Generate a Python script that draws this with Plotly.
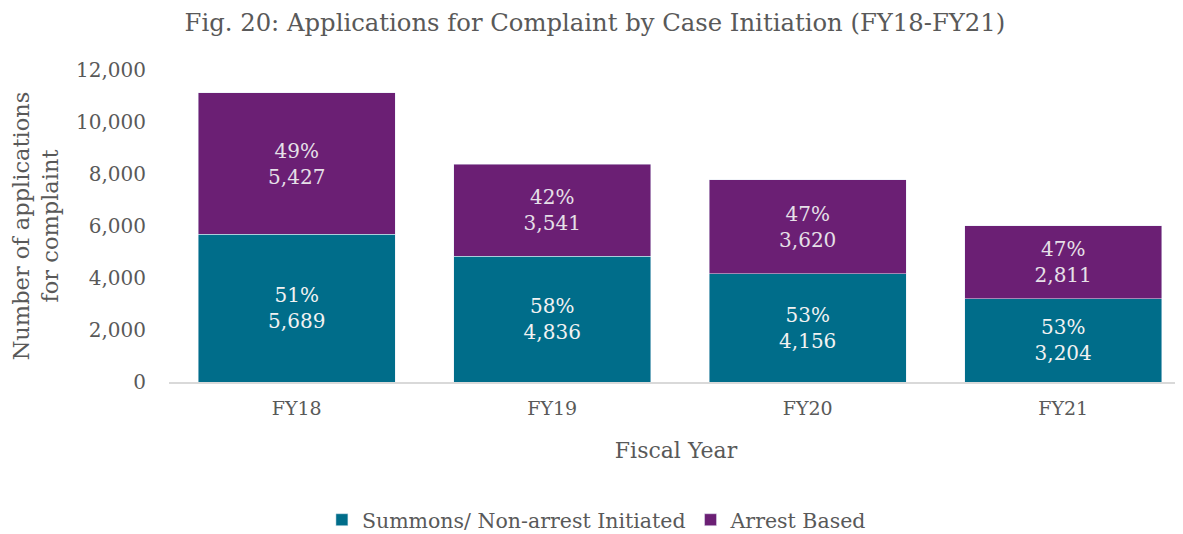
import plotly.graph_objects as go

years = ["FY18", "FY19", "FY20", "FY21"]
summons = [5689, 4836, 4156, 3204]
arrest = [5427, 3541, 3620, 2811]
summons_pct = ["51%", "58%", "53%", "53%"]
arrest_pct = ["49%", "42%", "47%", "47%"]

FONT = "DejaVu Serif"
GRAY = "#595959"
TEAL = "#006D8A"
PURPLE = "#6B1F74"

fig = go.Figure()
fig.add_trace(go.Bar(
    x=years, y=summons, name="Summons/ Non-arrest Initiated",
    marker=dict(color=TEAL),
    text=[f"{p}<br>{v:,}" for p, v in zip(summons_pct, summons)],
    textposition="inside", insidetextanchor="middle",
    textfont=dict(family=FONT, size=20, color="#F2F2F2"),
    width=0.77,
))
fig.add_trace(go.Bar(
    x=years, y=arrest, name="Arrest Based",
    marker=dict(color=PURPLE),
    text=[f"{p}<br>{v:,}" for p, v in zip(arrest_pct, arrest)],
    textposition="inside", insidetextanchor="middle",
    textfont=dict(family=FONT, size=20, color="#E6E0E8"),
    width=0.77,
))

fig.update_layout(
    barmode="stack",
    width=1175, height=526,
    margin=dict(l=161, r=0, t=62, b=152, autoexpand=False),
    paper_bgcolor="white", plot_bgcolor="white",
    font=dict(family=FONT, color=GRAY, size=19),
    uniformtext=dict(mode=False),
    title=dict(text="Fig. 20: Applications for Complaint by Case Initiation (FY18-FY21)",
               x=0.4995, xanchor="center", y=0.972, yanchor="middle",
               font=dict(family=FONT, size=24.3, color=GRAY)),
    legend=dict(orientation="h", x=0.422, xanchor="center", y=-0.442, yanchor="middle",
                font=dict(family=FONT, size=20.5, color=GRAY), traceorder="normal",
                itemwidth=30),
    xaxis=dict(range=[-0.5, 3.469], showgrid=False, showline=True, linecolor="#D9D9D9",
               linewidth=1.5, ticks="", tickfont=dict(size=19, color=GRAY),
               ticklabelstandoff=8, automargin=False,
               title=dict(text="Fiscal Year", font=dict(size=22, color=GRAY), standoff=25)),
    yaxis=dict(range=[0, 12000], dtick=2000, tickformat=",", showgrid=False,
               zeroline=False, ticks="", tickfont=dict(size=20, color=GRAY),
               ticklabelstandoff=22, automargin=False,
               title=dict(text="Number of applications<br>for complaint",
                          font=dict(size=22.5, color=GRAY), standoff=23)),
)

fig.write_html("out.html")
